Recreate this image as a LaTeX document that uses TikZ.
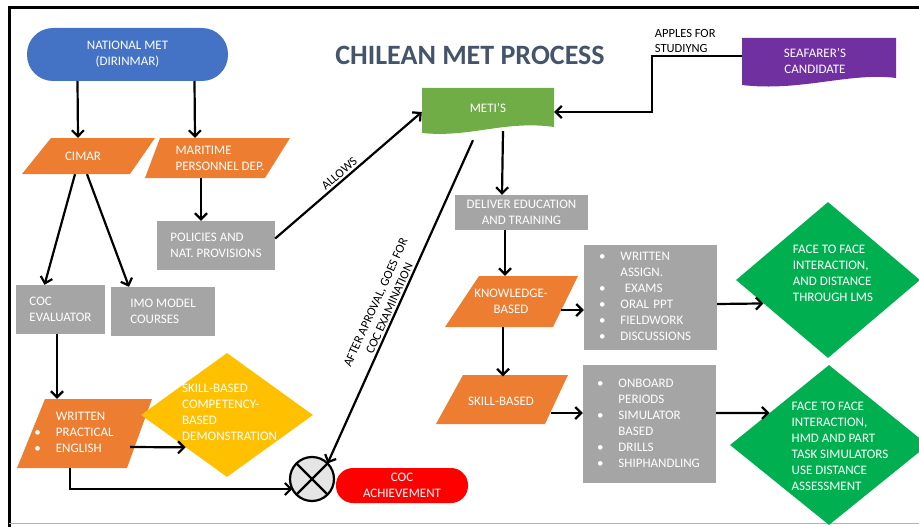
\documentclass[tikz,border=0pt]{standalone}
\usepackage{fontspec}
\setmainfont{Carlito}
\usetikzlibrary{shapes.geometric,arrows.meta,calc}

\definecolor{metblue}{HTML}{4472C4}
\definecolor{metorange}{HTML}{ED7D31}
\definecolor{metgray}{HTML}{A5A5A5}
\definecolor{metgreen}{HTML}{70AD47}
\definecolor{metpurple}{HTML}{7030A0}
\definecolor{metbright}{HTML}{00B050}
\definecolor{metyellow}{HTML}{FFC000}
\definecolor{metred}{HTML}{FF0000}
\definecolor{titlegray}{HTML}{44546A}

\begin{document}
\begin{tikzpicture}[x=1pt,y=-1pt,
  boxtext/.style={text=white, font=\fontsize{13}{16}\selectfont, inner sep=0pt},
  graybox/.style={boxtext, fill=metgray, align=left},
  pill/.style={boxtext, align=center},
  flow/.style={line width=2.2pt, -{Straight Barb[length=6pt,width=12pt,line width=2.2pt]}},
  lbl/.style={font=\fontsize{12.5}{15}\selectfont, inner sep=2pt}]
\useasboundingbox (0,0) rectangle (919,527);

\draw[line width=3pt] (9,527) -- (9,8) -- (919,8);
\draw[gray!60, line width=0.8pt] (9,523) -- (919,523);

\node[font=\bfseries\fontsize{28}{30}\selectfont, text=titlegray] (title) at (470,55) {CHILEAN MET PROCESS};

%%%%%%%%%%%%%%%%%%%%%%%%%%%%%%%
\node[pill, fill=metblue, minimum width=201pt, minimum height=53pt, rounded corners=26pt] (natmet) at (127.5,54.5) {NATIONAL MET\\(DIRINMAR)};

\fill[metorange] (51,138) -- (155,138) -- (130,174) -- (22,174) -- cycle;
\node[boxtext, minimum width=80pt, minimum height=36pt] (cimar) at (83,156) {CIMAR};

\fill[metorange] (160,138) -- (290,138) -- (265,178) -- (145,178) -- cycle;
\node[boxtext, align=left, minimum height=40pt] (mpd) at (220,158) {MARITIME\\PERSONNEL DEP.};

\node[graybox, minimum width=118pt, minimum height=49pt] (policies) at (216,245.5) {POLICIES AND\\NAT. PROVISIONS};
\node[graybox, minimum width=89pt, minimum height=49pt] (cocev) at (60.5,309.5) {COC\\EVALUATOR};
\node[graybox, minimum width=104pt, minimum height=49pt] (imo) at (163,311.5) {IMO MODEL\\COURSES};

\fill[metorange] (45,399) -- (152,399) -- (127,468) -- (17,468) -- cycle;
\node[boxtext, minimum width=112pt, minimum height=69pt] (written) at (74,433.5)
  {\begin{tabular}{@{}l@{\hspace{15pt}}l@{}} & WRITTEN\\ \textbullet & PRACTICAL\\ \textbullet & ENGLISH\end{tabular}};

\node[diamond, fill=metyellow, minimum width=172pt, minimum height=124pt, inner sep=0pt] (skilldem) at (227,415) {};
\node[boxtext, align=left, anchor=west] (skilldemtext) at (182,412) {SKILL-BASED\\COMPETENCY-\\BASED\\DEMONSTRATION};

\node[circle, draw, line width=2.2pt, fill=gray!20, minimum size=44pt, inner sep=0pt, outer sep=0pt] (junction) at (312,479) {};
\draw[line width=2.2pt] (junction.45) -- (junction.225) (junction.135) -- (junction.315);

\node[pill, fill=metred, minimum width=132pt, minimum height=35pt, rounded corners=17pt] (cocach) at (402,485.5) {COC\\ACHIEVEMENT};

%%%%%%%%%%%%%%%%%%%%%%%%%%%%%%%
\fill[metgreen] (422,88) -- (554,88) -- (554,127) .. controls (505,120) and (470,138) .. (422,133) -- cycle;
\node[boxtext, minimum width=132pt, minimum height=40pt] (metis) at (488,108) {METI'S};

\fill[metpurple] (742,38) -- (896,38) -- (896,78) .. controls (850,72) and (800,92) .. (742,85) -- cycle;
\node[boxtext, align=center, minimum width=146pt, minimum height=40pt] (seafarer) at (815,61) {SEAFARER'S\\CANDIDATE};

\node[graybox, align=center, minimum width=133pt, minimum height=35pt] (deliver) at (521.5,212.5) {DELIVER EDUCATION\\AND TRAINING};

\fill[metorange] (479,276) -- (578,276) -- (553,327) -- (445,327) -- cycle;
\node[boxtext, align=center, minimum width=100pt, minimum height=51pt] (know) at (511,301.5) {KNOWLEDGE-\\BASED};

\fill[metorange] (463,375) -- (568,375) -- (545,424) -- (436,424) -- cycle;
\node[boxtext, minimum width=100pt, minimum height=49pt] (skill) at (501,401) {SKILL-BASED};

\node[graybox, inner xsep=15pt, text width=103pt, minimum height=105pt] (list1) at (650.5,297.5)
  {\begin{tabular}{@{}l@{\hspace{15pt}}l@{}} \textbullet & WRITTEN\\ & ASSIGN.\\ \textbullet & \ EXAMS\\ \textbullet & ORAL PPT\\ \textbullet & FIELDWORK\\ \textbullet & DISCUSSIONS\end{tabular}};
\node[graybox, inner xsep=14pt, text width=105pt, minimum height=118pt] (list2) at (649.5,424)
  {\begin{tabular}{@{}l@{\hspace{15pt}}l@{}} \textbullet & ONBOARD\\ & PERIODS\\ \textbullet & SIMULATOR\\ & BASED\\ \textbullet & DRILLS\\ \textbullet & SHIPHANDLING\end{tabular}};

\node[diamond, fill=metbright, minimum width=184pt, minimum height=156pt, inner sep=0pt] (green1) at (828,280) {};
\node[boxtext, align=left] (green1text) at (833,273) {FACE TO FACE\\INTERACTION,\\AND DISTANCE\\THROUGH LMS};
\node[diamond, fill=metbright, minimum width=198pt, minimum height=160pt, inner sep=0pt] (green2) at (829,445) {};
\node[boxtext, align=left] (green2text) at (840,446.5) {FACE TO FACE\\INTERACTION,\\HMD AND PART\\TASK SIMULATORS\\USE DISTANCE\\ASSESSMENT};

%%%%%%%%%%%%%%%%%%%%%%%%%%%%%%%
\draw[flow] ([xshift=-50pt]natmet.south) -- ([xshift=-5pt]cimar.north);
\draw[flow] ([xshift=67pt]natmet.south) -- ([xshift=-25pt]mpd.north);
\draw[flow] ([xshift=-8pt]cimar.south) -- ([xshift=-16pt]cocev.north);
\draw[flow] ([xshift=4pt]cimar.south) -- ([xshift=-34pt]imo.north);
\draw[flow] ([xshift=-19pt]mpd.south) -- ([xshift=-15pt]policies.north);
\draw[flow] ([yshift=7pt]policies.east) -- node[lbl, sloped, above, pos=0.47] {ALLOWS} ([yshift=-4pt]metis.west);
\draw[flow] ([xshift=-3.5pt]cocev.south) -- ([xshift=-17pt]written.north);
\draw[flow] ([yshift=-13.5pt]written.east) -- ($(skilldem.west)!0.52!(skilldem.south)$);
\draw[flow] ([xshift=-4pt]written.south) |- (junction.207);
\draw[flow] ([xshift=-15pt,yshift=-12pt]metis.south) -- node[lbl, sloped, above, align=center, pos=0.53] {AFTER APROVAL, GOES FOR\\COC EXAMINATION} (junction.45);

\draw[flow] ([yshift=5pt]seafarer.west) -- ++(-90pt,0) node[lbl, anchor=south west, align=left] {APPLES FOR\\STUDIYNG} |- ([yshift=-4pt]metis.east);
\draw[flow] ([xshift=15pt,yshift=-3pt]metis.south) -- ([xshift=-19.5pt]deliver.north);
\draw[flow] ([xshift=-16.5pt]deliver.south) -- ([xshift=-6pt]know.north);
\draw[flow] ([xshift=-8pt]know.south) -- ([xshift=2pt]skill.north);
\draw[flow] ([yshift=-8.5pt]know.east) -- ([yshift=-12.5pt]list1.west);
\draw[flow] ([yshift=-12pt]skill.east) -- ([yshift=11pt]list2.west);
\draw[flow] ([yshift=-6.5pt]list1.east) -- ($(green1.west)!0.3!(green1.south)$);
\draw[flow] ([yshift=11pt]list2.east) -- ($(green2.west)!0.4!(green2.north)$);
\end{tikzpicture}
\end{document}
